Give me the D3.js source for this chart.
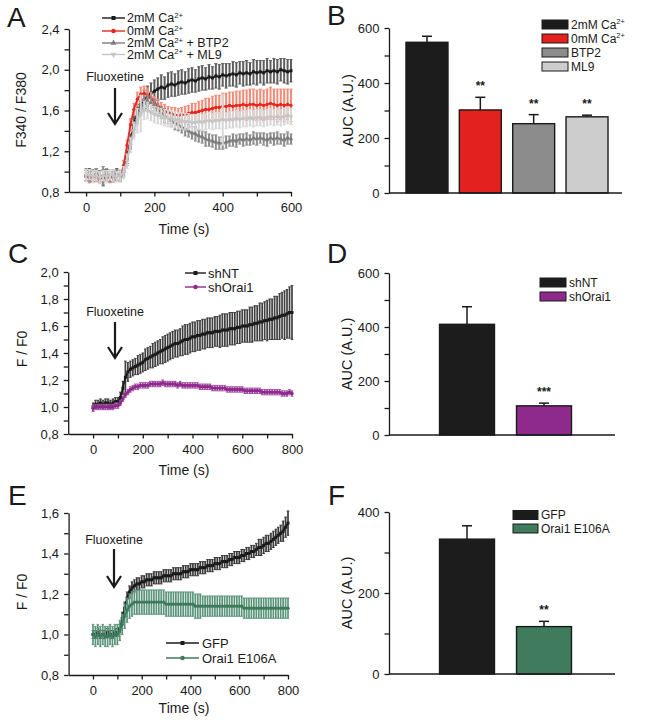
<!DOCTYPE html>
<html><head><meta charset="utf-8">
<script src="https://cdn.jsdelivr.net/npm/d3@7"></script>
<style>
body{margin:0;background:#fff}
svg{display:block}
text{font-family:"Liberation Sans",Arial,Helvetica,sans-serif;fill:#1a1a1a}
</style>
</head><body><svg id="c" width="650" height="724"></svg>
<script>
// ---------------- DATA ----------------
const timeA = d3.range(0, 601, 10);
const timeCE = d3.range(0, 801, 10);

// Panel A : F340/F380 ratio
const a_ca2_mean = [0.96,0.97,0.95,0.97,0.96,0.94,0.97,0.96,0.95,0.97,0.96,
 1.01,1.14,1.30,1.46,1.58,1.66,1.71,1.74,1.77,1.79,
 1.81,1.83,1.82,1.85,1.86,1.85,1.87,1.88,1.87,1.89,
 1.90,1.89,1.91,1.92,1.91,1.93,1.92,1.94,1.93,1.95,
 1.94,1.95,1.96,1.95,1.97,1.96,1.97,1.96,1.98,1.97,
 1.98,1.97,1.99,1.98,1.99,1.98,2.00,1.99,1.98,1.99];
const a_ca2_err = [0.05,0.06,0.05,0.06,0.05,0.08,0.05,0.06,0.05,0.06,0.05,
 0.05,0.06,0.07,0.08,0.08,0.09,0.09,0.10,0.10,0.11,
 0.11,0.12,0.11,0.12,0.12,0.11,0.12,0.12,0.11,0.12,
 0.12,0.11,0.12,0.12,0.11,0.12,0.11,0.12,0.12,0.11,
 0.12,0.11,0.12,0.12,0.11,0.12,0.12,0.11,0.12,0.12,
 0.11,0.12,0.12,0.11,0.12,0.12,0.11,0.12,0.12,0.11];
const a_ca0_mean = [0.95,0.94,0.96,0.95,0.93,0.95,0.96,0.94,0.95,0.96,0.95,
 1.06,1.26,1.46,1.61,1.71,1.76,1.77,1.75,1.72,1.68,
 1.65,1.62,1.60,1.58,1.57,1.56,1.55,1.56,1.56,1.57,
 1.58,1.58,1.59,1.60,1.61,1.61,1.62,1.63,1.63,1.64,
 1.64,1.65,1.64,1.65,1.65,1.66,1.65,1.66,1.66,1.65,
 1.66,1.65,1.66,1.67,1.66,1.65,1.66,1.65,1.66,1.65];
const a_ca0_err = [0.04,0.05,0.04,0.05,0.04,0.05,0.04,0.05,0.04,0.05,0.04,
 0.05,0.05,0.06,0.06,0.07,0.07,0.07,0.07,0.06,0.06,
 0.06,0.06,0.06,0.06,0.06,0.07,0.07,0.07,0.08,0.08,
 0.09,0.09,0.10,0.10,0.11,0.11,0.12,0.12,0.12,0.13,
 0.13,0.13,0.14,0.14,0.14,0.14,0.15,0.15,0.15,0.15,
 0.15,0.15,0.15,0.16,0.15,0.16,0.15,0.16,0.15,0.16];
const a_btp2_mean = [0.97,0.95,0.96,0.98,0.95,0.96,0.97,0.95,0.96,0.97,0.96,
 1.00,1.12,1.28,1.42,1.54,1.62,1.67,1.69,1.67,1.64,
 1.61,1.58,1.55,1.53,1.50,1.48,1.46,1.44,1.42,1.40,
 1.38,1.37,1.35,1.34,1.32,1.31,1.30,1.29,1.28,1.28,
 1.29,1.30,1.31,1.30,1.32,1.31,1.32,1.31,1.33,1.32,
 1.33,1.32,1.31,1.33,1.32,1.33,1.32,1.31,1.33,1.32];
const a_btp2_err = [0.06,0.05,0.06,0.05,0.06,0.09,0.06,0.05,0.06,0.05,0.06,
 0.05,0.06,0.06,0.07,0.07,0.07,0.07,0.07,0.07,0.07,
 0.06,0.06,0.07,0.06,0.06,0.07,0.06,0.06,0.07,0.06,
 0.06,0.07,0.06,0.06,0.07,0.06,0.06,0.07,0.06,0.06,
 0.06,0.05,0.06,0.06,0.05,0.06,0.06,0.05,0.06,0.06,
 0.05,0.06,0.06,0.05,0.06,0.06,0.05,0.06,0.06,0.05];
const a_ml9_mean = [0.96,0.97,0.95,0.96,0.94,0.96,0.95,0.97,0.96,0.95,0.96,
 0.99,1.10,1.26,1.40,1.50,1.57,1.60,1.60,1.58,1.56,
 1.55,1.54,1.53,1.52,1.52,1.51,1.50,1.50,1.49,1.49,
 1.48,1.48,1.49,1.48,1.49,1.50,1.49,1.50,1.50,1.51,
 1.50,1.51,1.51,1.52,1.51,1.52,1.52,1.53,1.52,1.53,
 1.53,1.52,1.53,1.54,1.53,1.54,1.53,1.54,1.55,1.54];
const a_ml9_err = [0.06,0.05,0.06,0.05,0.06,0.05,0.06,0.05,0.06,0.05,0.06,
 0.06,0.07,0.07,0.08,0.12,0.18,0.09,0.08,0.08,0.08,
 0.08,0.08,0.08,0.08,0.08,0.08,0.08,0.08,0.08,0.08,
 0.08,0.08,0.08,0.08,0.08,0.08,0.08,0.08,0.08,0.25,
 0.08,0.08,0.08,0.08,0.08,0.08,0.08,0.08,0.08,0.08,
 0.08,0.08,0.08,0.08,0.08,0.08,0.08,0.08,0.08,0.08];

// Panel C : F/F0
const c_shnt_mean = [1.00,1.02,1.02,1.03,1.02,1.03,1.03,1.02,1.03,1.04,1.04,
 1.07,1.14,1.22,1.26,1.28,1.29,1.30,1.31,1.32,1.33,
 1.35,1.36,1.37,1.38,1.39,1.40,1.41,1.42,1.43,1.44,
 1.45,1.46,1.47,1.47,1.48,1.49,1.50,1.50,1.51,1.52,
 1.52,1.53,1.53,1.54,1.54,1.55,1.55,1.55,1.56,1.56,
 1.56,1.57,1.57,1.57,1.58,1.58,1.58,1.59,1.59,1.60,
 1.60,1.60,1.61,1.61,1.62,1.62,1.63,1.63,1.64,1.64,
 1.65,1.65,1.66,1.66,1.67,1.68,1.68,1.69,1.70,1.70];
const c_shnt_err = [0.03,0.03,0.03,0.03,0.03,0.03,0.03,0.03,0.03,0.03,0.03,
 0.04,0.05,0.12,0.07,0.06,0.06,0.06,0.07,0.07,0.07,
 0.08,0.08,0.08,0.09,0.09,0.09,0.09,0.10,0.10,0.10,
 0.10,0.10,0.10,0.10,0.10,0.11,0.11,0.11,0.11,0.11,
 0.11,0.11,0.11,0.11,0.11,0.11,0.11,0.11,0.11,0.11,
 0.12,0.12,0.12,0.12,0.12,0.12,0.12,0.12,0.12,0.12,
 0.12,0.12,0.13,0.13,0.13,0.13,0.14,0.14,0.14,0.15,
 0.15,0.15,0.16,0.16,0.17,0.17,0.18,0.18,0.19,0.20];
const c_orai_mean = [0.99,1.00,1.00,1.00,1.00,1.00,1.00,1.00,1.00,1.01,1.01,
 1.03,1.06,1.09,1.11,1.13,1.14,1.15,1.15,1.16,1.16,
 1.16,1.16,1.17,1.17,1.17,1.17,1.17,1.18,1.17,1.17,
 1.17,1.17,1.17,1.16,1.17,1.16,1.16,1.16,1.16,1.16,
 1.16,1.16,1.15,1.15,1.15,1.15,1.15,1.14,1.14,1.14,
 1.14,1.14,1.14,1.13,1.13,1.13,1.13,1.13,1.13,1.13,
 1.12,1.12,1.12,1.12,1.12,1.12,1.12,1.11,1.11,1.11,
 1.11,1.11,1.11,1.11,1.11,1.10,1.10,1.10,1.11,1.10];
const c_orai_err = [0.02,0.02,0.02,0.02,0.02,0.02,0.02,0.02,0.02,0.02,0.02,
 0.02,0.02,0.02,0.02,0.02,0.02,0.02,0.02,0.02,0.02,
 0.02,0.02,0.02,0.02,0.02,0.02,0.02,0.02,0.02,0.02,
 0.02,0.02,0.02,0.02,0.02,0.02,0.02,0.02,0.02,0.02,
 0.02,0.02,0.02,0.02,0.02,0.02,0.02,0.02,0.02,0.02,
 0.02,0.02,0.02,0.02,0.02,0.02,0.02,0.02,0.02,0.02,
 0.02,0.02,0.02,0.02,0.02,0.02,0.02,0.02,0.02,0.02,
 0.02,0.02,0.02,0.02,0.02,0.02,0.02,0.02,0.02,0.02];

// Panel E : F/F0
const e_gfp_mean = [1.00,1.00,1.01,1.00,1.00,1.00,1.01,1.00,1.00,1.01,1.01,
 1.03,1.08,1.13,1.18,1.21,1.23,1.24,1.25,1.25,1.26,
 1.26,1.27,1.27,1.27,1.28,1.28,1.28,1.28,1.29,1.29,
 1.29,1.29,1.30,1.30,1.30,1.30,1.31,1.31,1.31,1.32,
 1.32,1.32,1.32,1.33,1.33,1.33,1.34,1.34,1.34,1.35,
 1.35,1.35,1.36,1.36,1.36,1.37,1.37,1.38,1.38,1.38,
 1.39,1.39,1.40,1.40,1.41,1.41,1.42,1.43,1.43,1.44,
 1.45,1.45,1.46,1.47,1.48,1.49,1.50,1.51,1.53,1.55];
const e_gfp_err = [0.02,0.02,0.02,0.02,0.02,0.02,0.02,0.02,0.02,0.02,0.02,
 0.02,0.03,0.03,0.03,0.03,0.03,0.03,0.03,0.03,0.03,
 0.03,0.03,0.03,0.03,0.03,0.03,0.03,0.03,0.03,0.03,
 0.03,0.03,0.03,0.03,0.03,0.03,0.03,0.03,0.03,0.03,
 0.03,0.03,0.03,0.03,0.03,0.03,0.03,0.03,0.03,0.03,
 0.03,0.03,0.03,0.03,0.03,0.03,0.03,0.03,0.03,0.03,
 0.03,0.03,0.03,0.03,0.03,0.03,0.03,0.04,0.04,0.04,
 0.04,0.04,0.04,0.04,0.04,0.04,0.04,0.05,0.05,0.06];
const e_mut_mean = [1.00,0.99,1.00,0.99,1.00,0.99,0.99,1.00,0.99,1.00,1.00,
 1.02,1.05,1.09,1.12,1.14,1.15,1.16,1.16,1.16,1.16,
 1.16,1.16,1.16,1.16,1.16,1.16,1.16,1.16,1.16,1.15,
 1.15,1.15,1.15,1.15,1.15,1.15,1.15,1.15,1.15,1.15,
 1.15,1.14,1.14,1.14,1.14,1.14,1.14,1.14,1.14,1.14,
 1.14,1.14,1.14,1.14,1.14,1.14,1.14,1.14,1.14,1.14,
 1.14,1.13,1.13,1.13,1.13,1.13,1.13,1.13,1.13,1.13,
 1.13,1.13,1.13,1.13,1.13,1.13,1.13,1.13,1.13,1.13];
const e_mut_err = [0.05,0.05,0.05,0.05,0.05,0.05,0.05,0.05,0.05,0.05,0.05,
 0.05,0.05,0.06,0.06,0.06,0.06,0.06,0.06,0.06,0.06,
 0.06,0.06,0.06,0.06,0.06,0.06,0.06,0.06,0.06,0.06,
 0.06,0.06,0.06,0.06,0.06,0.06,0.06,0.06,0.06,0.06,
 0.06,0.06,0.06,0.06,0.05,0.05,0.05,0.05,0.05,0.05,
 0.05,0.05,0.05,0.05,0.05,0.05,0.05,0.05,0.05,0.05,
 0.05,0.05,0.05,0.05,0.05,0.05,0.05,0.05,0.05,0.05,
 0.05,0.05,0.05,0.05,0.05,0.05,0.05,0.05,0.05,0.05];

// Bar panels (AUC)
const b_cats = ["2mM Ca", "0mM Ca", "BTP2", "ML9"];
const b_vals = [548, 302, 252, 277];
const b_errs = [22, 46, 33, 6];
const b_sig  = ["", "**", "**", "**"];
const d_cats = ["shNT", "shOrai1"];
const d_vals = [410, 108];
const d_errs = [65, 10];
const d_sig  = ["", "***"];
const f_cats = ["GFP", "Orai1 E106A"];
const f_vals = [333, 117];
const f_errs = [33, 13];
const f_sig  = ["", "**"];

const ticksA_x = [0,100,200,300,400,500,600];
const ticksA_y = [0.8,1.0,1.2,1.4,1.6,1.8,2.0,2.2,2.4];
const ticksCE_x = [0,100,200,300,400,500,600,700,800];
const ticksC_y = [0.8,0.9,1.0,1.1,1.2,1.3,1.4,1.5,1.6,1.7,1.8,1.9,2.0];
const ticksE_y = [0.8,0.9,1.0,1.1,1.2,1.3,1.4,1.5,1.6];

// ---------------- DRAW ----------------
const svg = d3.select("#c");
const INK = "#1a1a1a";
const comma = d => d3.format(".1f")(d).replace(".", ",");
const isMult = (d, m) => Math.abs(d / m - Math.round(d / m)) < 1e-6;

function styleAxis(sel, fs) {
  sel.attr("font-family", null).attr("font-size", null);
  sel.selectAll("path,line").attr("stroke", INK).attr("stroke-width", 1.3);
  sel.selectAll("text").attr("font-size", fs).style("fill", INK);
}

function panelLetter(ch, x, y) {
  svg.append("text").attr("x", x).attr("y", y).attr("font-size", 28).text(ch);
}

function yTitle(txt, x, y, fs) {
  svg.append("text").attr("transform", `translate(${x},${y}) rotate(-90)`)
    .attr("text-anchor", "middle").attr("dy", "0.35em").attr("font-size", fs).text(txt);
}

function richText(g, x, y, parts, fs) {
  const t = g.append("text").attr("x", x).attr("y", y + 0.35 * fs).attr("font-size", fs);
  parts.forEach(p => {
    const ts = t.append("tspan").text(p.t);
    if (p.sup) ts.attr("font-size", fs * 0.62).attr("dy", -fs * 0.38);
    else if (p.after) ts.attr("dy", fs * 0.38);
  });
}

function marker(type, size) {
  const sym = {square: d3.symbolSquare, circle: d3.symbolCircle, tri: d3.symbolTriangle, tridown: d3.symbolTriangle}[type];
  return d3.symbol().type(sym).size(size)();
}

function drawSeries(g, x, y, t, s, errW, capW) {
  const eg = g.append("g").attr("stroke", s.errColor).attr("stroke-width", errW);
  t.forEach((tt, i) => {
    const xx = x(tt), y1 = y(s.mean[i] - s.err[i]), y2 = y(s.mean[i] + s.err[i]);
    eg.append("line").attr("x1", xx).attr("x2", xx).attr("y1", y1).attr("y2", y2);
    eg.append("line").attr("x1", xx - capW).attr("x2", xx + capW).attr("y1", y1).attr("y2", y1).attr("stroke-width", 1);
    eg.append("line").attr("x1", xx - capW).attr("x2", xx + capW).attr("y1", y2).attr("y2", y2).attr("stroke-width", 1);
  });
  g.append("path").attr("d", d3.line().x((d, i) => x(t[i])).y(d => y(d))(s.mean))
    .attr("fill", "none").attr("stroke", s.color).attr("stroke-width", 1.8);
  g.append("g").selectAll("path").data(s.mean).join("path")
    .attr("d", marker(s.marker, 9))
    .attr("transform", (d, i) => `translate(${x(t[i])},${y(d)})${s.marker === "tridown" ? " rotate(180)" : ""}`)
    .attr("fill", s.color);
}

function drawFluox(x, yText, yTop, yBot) {
  svg.append("text").attr("x", x).attr("y", yText).attr("dy", "0.35em")
    .attr("text-anchor", "middle").attr("font-size", 12.5).text("Fluoxetine");
  svg.append("line").attr("x1", x).attr("x2", x).attr("y1", yTop).attr("y2", yBot - 1)
    .attr("stroke", INK).attr("stroke-width", 2.2);
  svg.append("path").attr("d", `M${x - 7},${yBot - 11}L${x},${yBot}L${x + 7},${yBot - 11}`)
    .attr("fill", "none").attr("stroke", INK).attr("stroke-width", 2.2);
}

function timePanel(p) {
  const g = svg.append("g");
  const x = d3.scaleLinear().domain(p.xDomain).range(p.xRange);
  const y = d3.scaleLinear().domain(p.yDomain).range(p.yRange);
  p.series.forEach(s => drawSeries(g, x, y, p.t, s, p.errW, p.capW));
  const xa = g.append("g").attr("transform", `translate(0,${p.yRange[0]})`)
    .call(d3.axisBottom(x).tickValues(p.xTicks).tickSize(4.5).tickSizeOuter(0).tickPadding(6)
      .tickFormat(d => isMult(d, 200) ? d : ""));
  styleAxis(xa, 13);
  const ya = g.append("g").attr("transform", `translate(${p.xRange[0]},0)`)
    .call(d3.axisLeft(y).tickValues(p.yTicks).tickSize(4.5).tickSizeOuter(0).tickPadding(5)
      .tickFormat(d => isMult(d, p.yMajor) ? comma(d) : ""));
  styleAxis(ya, 13);
  svg.append("text").attr("x", 184).attr("y", p.xTitleY).attr("dy", "0.35em")
    .attr("text-anchor", "middle").attr("font-size", 14).text("Time (s)");
  yTitle(p.yTitle, p.yTitleX, p.yTitleY, 14);
  const lg = svg.append("g");
  p.series.forEach((s, i) => {
    const yy = p.leg.y[i];
    lg.append("line").attr("x1", p.leg.x0).attr("x2", p.leg.x1).attr("y1", yy).attr("y2", yy)
      .attr("stroke", s.color).attr("stroke-width", 1.4);
    lg.append("path").attr("d", marker(s.marker, 16))
      .attr("transform", `translate(${(p.leg.x0 + p.leg.x1) / 2},${yy})${s.marker === "tridown" ? " rotate(180)" : ""}`)
      .attr("fill", s.color);
    richText(lg, p.leg.tx, yy, s.label, p.leg.fs);
  });
}

function barPanel(p) {
  const g = svg.append("g");
  const x = d3.scaleBand().domain(p.cats).range(p.band).paddingInner(p.pad).paddingOuter(p.pad / 2);
  const y = d3.scaleLinear().domain(p.yDomain).range(p.yRange);
  g.selectAll("rect.bar").data(p.vals).join("rect").attr("class", "bar")
    .attr("x", (d, i) => x(p.cats[i])).attr("width", x.bandwidth())
    .attr("y", d => y(d)).attr("height", d => y(0) - y(d))
    .attr("fill", (d, i) => p.colors[i]).attr("stroke", INK).attr("stroke-width", 1.4);
  p.vals.forEach((v, i) => {
    const cx = x(p.cats[i]) + x.bandwidth() / 2, top = y(v + p.errs[i]);
    g.append("line").attr("x1", cx).attr("x2", cx).attr("y1", y(v)).attr("y2", top).attr("stroke", INK).attr("stroke-width", 1.5);
    g.append("line").attr("x1", cx - 5).attr("x2", cx + 5).attr("y1", top).attr("y2", top).attr("stroke", INK).attr("stroke-width", 1.5);
    if (p.sig[i]) g.append("text").attr("x", cx).attr("y", top - 7).attr("text-anchor", "middle")
      .attr("font-size", 12).attr("font-weight", "bold").text(p.sig[i]);
  });
  const ya = g.append("g").attr("transform", `translate(${p.axisX},0)`)
    .call(d3.axisLeft(y).tickValues(d3.range(p.yDomain[0], p.yDomain[1] + 1, 100)).tickSize(4.5).tickSizeOuter(0).tickPadding(5)
      .tickFormat(d => d % 200 === 0 ? d : ""));
  styleAxis(ya, 13);
  g.append("line").attr("x1", p.axisX).attr("x2", p.axisEnd).attr("y1", y(0)).attr("y2", y(0))
    .attr("stroke", INK).attr("stroke-width", 1.3);
  yTitle("AUC (A.U.)", p.yTitleX, (p.yRange[0] + p.yRange[1]) / 2, 14.5);
  p.cats.forEach((c, i) => {
    const yy = p.leg.y[i];
    g.append("rect").attr("x", p.leg.x).attr("y", yy - 4.5).attr("width", p.leg.w).attr("height", 9)
      .attr("fill", p.colors[i]).attr("stroke", INK).attr("stroke-width", 1);
    richText(g, p.leg.x + p.leg.w + 3, yy, p.legLabels[i], 12);
  });
}

const ca2 = [{t: "2mM Ca"}, {t: "2+", sup: true}];
const ca0 = [{t: "0mM Ca"}, {t: "2+", sup: true}];

// ---- Panel A
timePanel({
  t: timeA, xDomain: [-50, 600], xRange: [69, 291], yDomain: [0.8, 2.4], yRange: [192, 29],
  xTicks: ticksA_x, yTicks: ticksA_y, yMajor: 0.4, xTitleY: 229, yTitle: "F340 / F380", yTitleX: 21, yTitleY: 110,
  errW: 2, capW: 1.6,
  leg: {x0: 102, x1: 125, tx: 127, y: [18, 31, 43, 54.5], fs: 12.5},
  series: [
    {mean: a_ca2_mean, err: a_ca2_err, color: "#1a1a1a", errColor: "#5e5e5e", marker: "square", label: ca2},
    {mean: a_ca0_mean, err: a_ca0_err, color: "#e8261f", errColor: "#f28a76", marker: "circle", label: ca0},
    {mean: a_btp2_mean, err: a_btp2_err, color: "#7d7d7d", errColor: "#8e8e8e", marker: "tri", label: [...ca2, {t: " + BTP2", after: true}]},
    {mean: a_ml9_mean, err: a_ml9_err, color: "#c6c6c6", errColor: "#d6d6d6", marker: "tridown", label: [...ca2, {t: " + ML9", after: true}]}
  ]
});
drawFluox(115, 77, 88, 124);
panelLetter("A", 7, 27);

// ---- Panel C
timePanel({
  t: timeCE, xDomain: [-100, 800], xRange: [68.2, 292], yDomain: [0.8, 2.0], yRange: [434, 272],
  xTicks: ticksCE_x, yTicks: ticksC_y, yMajor: 0.2, xTitleY: 470, yTitle: "F / F0", yTitleX: 22, yTitleY: 349,
  errW: 1.7, capW: 1.3,
  leg: {x0: 185, x1: 206, tx: 208, y: [273, 287], fs: 13},
  series: [
    {mean: c_shnt_mean, err: c_shnt_err, color: "#1a1a1a", errColor: "#404040", marker: "square", label: [{t: "shNT"}]},
    {mean: c_orai_mean, err: c_orai_err, color: "#8e2a8c", errColor: "#a650a4", marker: "circle", label: [{t: "shOrai1"}]}
  ]
});
drawFluox(115, 312, 322, 358);
panelLetter("C", 8, 263);

// ---- Panel E
timePanel({
  t: timeCE, xDomain: [-100, 800], xRange: [68.6, 288], yDomain: [0.8, 1.6], yRange: [675, 513],
  xTicks: ticksCE_x, yTicks: ticksE_y, yMajor: 0.2, xTitleY: 708, yTitle: "F / F0", yTitleX: 22, yTitleY: 592,
  errW: 1.7, capW: 1.3,
  leg: {x0: 166, x1: 199, tx: 202, y: [643, 658], fs: 13},
  series: [
    {mean: e_gfp_mean, err: e_gfp_err, color: "#1a1a1a", errColor: "#3a3a3a", marker: "square", label: [{t: "GFP"}]},
    {mean: e_mut_mean, err: e_mut_err, color: "#3d7a5a", errColor: "#5c957b", marker: "circle", label: [{t: "Orai1 E106A"}]}
  ]
});
drawFluox(114, 540, 549, 587);
panelLetter("E", 8, 505);

// ---- Panel B
barPanel({
  cats: b_cats, vals: b_vals, errs: b_errs, sig: b_sig,
  colors: ["#1c1c1c", "#e3211f", "#8c8c8c", "#cdcdcd"],
  band: [400.3, 613.7], pad: 0.213, yDomain: [0, 600], yRange: [193, 28],
  axisX: 389, axisEnd: 622, yTitleX: 348,
  leg: {x: 542, w: 26, y: [24.5, 38.5, 52.5, 66.5]},
  legLabels: [ca2, ca0, [{t: "BTP2"}], [{t: "ML9"}]]
});
panelLetter("B", 327, 25);

// ---- Panel D
barPanel({
  cats: d_cats, vals: d_vals, errs: d_errs, sig: d_sig,
  colors: ["#1c1c1c", "#8e2a8c"],
  band: [428.5, 582.5], pad: 0.286, yDomain: [0, 600], yRange: [435, 273],
  axisX: 389, axisEnd: 615, yTitleX: 347,
  leg: {x: 540, w: 26, y: [282.5, 296.5]},
  legLabels: [[{t: "shNT"}], [{t: "shOrai1"}]]
});
panelLetter("D", 327, 263);

// ---- Panel F
barPanel({
  cats: f_cats, vals: f_vals, errs: f_errs, sig: f_sig,
  colors: ["#1c1c1c", "#3f7b5c"],
  band: [428.5, 582.5], pad: 0.286, yDomain: [0, 400], yRange: [674, 512],
  axisX: 389, axisEnd: 615, yTitleX: 347,
  leg: {x: 513, w: 25, y: [515, 528.5]},
  legLabels: [[{t: "GFP"}], [{t: "Orai1 E106A"}]]
});
panelLetter("F", 328, 505);
</script>
</body></html>
